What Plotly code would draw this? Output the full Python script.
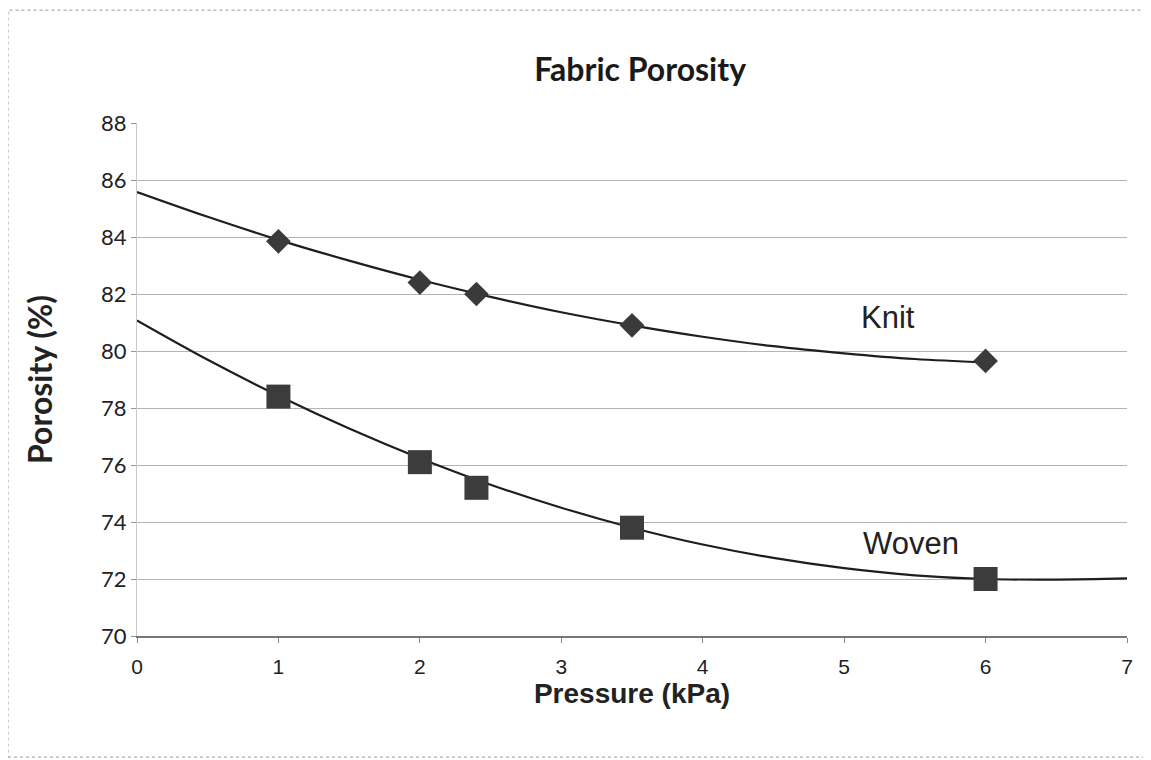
import plotly.graph_objects as go

# Measured points
pressure = [1, 2, 2.4, 3.5, 6]
knit = [83.85, 82.4, 82.0, 80.9, 79.65]
woven = [78.4, 76.1, 75.2, 73.8, 72.0]

# Trendlines
knit_trend_x = [0, 0.5, 1, 1.5, 2, 2.5, 3, 3.5, 4, 4.5, 5, 5.5, 6]
knit_trend_y = [85.58, 84.71, 83.90, 83.17, 82.50, 81.90, 81.36, 80.90, 80.50, 80.17, 79.92, 79.72, 79.60]
woven_trend_x = [0, 0.5, 1, 1.5, 2, 2.5, 3, 3.5, 4, 4.5, 5, 5.5, 6, 6.5, 7]
woven_trend_y = [81.07, 79.69, 78.43, 77.28, 76.24, 75.31, 74.50, 73.80, 73.21, 72.74, 72.38, 72.13, 72.00, 71.98, 72.02]

x_ticks = [0, 1, 2, 3, 4, 5, 6, 7]
y_ticks = [70, 72, 74, 76, 78, 80, 82, 84, 86, 88]

fig = go.Figure()
line_color = "#1e1e1e"
fig.add_trace(go.Scatter(x=knit_trend_x, y=knit_trend_y, mode="lines",
                         line=dict(color=line_color, width=2.2, shape="spline"),
                         showlegend=False, hoverinfo="skip"))
fig.add_trace(go.Scatter(x=woven_trend_x, y=woven_trend_y, mode="lines",
                         line=dict(color=line_color, width=2.2, shape="spline"),
                         showlegend=False, hoverinfo="skip"))
fig.add_trace(go.Scatter(x=pressure, y=knit, mode="markers", name="Knit",
                         marker=dict(symbol="diamond", size=19, color="#3a3a3a",
                                     line=dict(width=0)),
                         showlegend=False))
fig.add_trace(go.Scatter(x=pressure, y=woven, mode="markers", name="Woven",
                         marker=dict(symbol="square", size=24, color="#3c3c3c",
                                     line=dict(width=0)),
                         showlegend=False))

fig.add_annotation(x=5.31, y=81.16, text="Knit", showarrow=False,
                   font=dict(family="Liberation Sans, Arial", size=31, color="#222"))
fig.add_annotation(x=5.47, y=73.26, text="Woven", showarrow=False,
                   font=dict(family="Liberation Sans, Arial", size=31, color="#222"))

# Outer border
fig.add_shape(type="rect", xref="paper", yref="paper",
              x0=-0.1303, x1=1.022, y0=-0.236, y1=1.22,
              line=dict(color="#9a9a9a", width=1, dash="dot"))

fig.update_layout(
    width=1143, height=752,
    paper_bgcolor="white", plot_bgcolor="white",
    margin=dict(l=129, r=24, t=115, b=124),
    title=dict(text="<b>Fabric Porosity</b>", x=0.553, xanchor="center",
               y=0.9176, yanchor="middle",
               font=dict(family="Lato, Open Sans", size=32, color="#1a1a1a")),
    xaxis=dict(range=[0, 7], tickvals=x_ticks, showgrid=False,
               showline=True, linecolor="#777", linewidth=2,
               ticks="outside", ticklen=5, tickcolor="#888",
               ticklabelstandoff=6,
               tickfont=dict(family="Liberation Sans Narrow, Liberation Sans, Arial", size=21, color="#222"),
               title=dict(text="<b>Pressure (kPa)</b>", standoff=6,
                          font=dict(family="Liberation Sans, Arial", size=28, color="#222")),
               zeroline=False),
    yaxis=dict(range=[70, 88], tickvals=y_ticks, showgrid=True,
               gridcolor="#b4b4b4", gridwidth=1.3,
               showline=True, linecolor="#c8c8c8", linewidth=1,
               ticks="outside", ticklen=5, tickcolor="#999",
               tickfont=dict(family="Lato, Open Sans", size=22, color="#222"),
               title=dict(text="<b>Porosity (%)</b>", standoff=38,
                          font=dict(family="Lato, Open Sans", size=32, color="#222")),
               zeroline=False),
)

fig.write_html("out.html")
